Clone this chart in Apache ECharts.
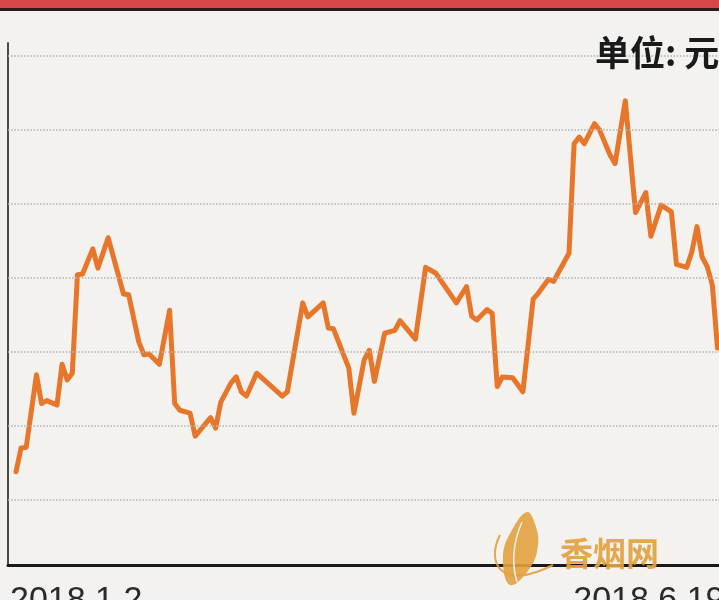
<!DOCTYPE html>
<html>
<head>
<meta charset="utf-8">
<script src="https://cdn.jsdelivr.net/npm/echarts@6/dist/echarts.min.js"></script>
<style>
html,body{margin:0;padding:0;background:#f3f2ef;}
#c{width:719px;height:600px;}
</style>
</head>
<body>
<div id="c"></div>
<script>
// trading-day index (0 = 2018.1.2) and price in 元
const dayIndex = [0,1,2,4,5,6,8,9,10,11,12,13,15,16,18,21,22,24,25,26,28,30,31,32,34,35,38,39,40,42,43,44,45,47,52,53,56,57,60,61,62,65,66,68,69,70,72,74,75,78,80,82,86,88,89,90,92,93,94,95,97,99,101,102,104,105,108,109,110,111,113,114,116,117,119,121,123,124,126,128,129,131,132,133,134,135,136,137];
const prices = [13.8,17.0,17.1,26.9,23.0,23.4,22.8,28.3,26.2,27.1,40.4,40.5,43.9,41.3,45.4,37.8,37.7,31.3,29.6,29.7,28.3,35.6,23.0,22.1,21.7,18.6,21.1,19.7,23.2,25.8,26.6,24.6,24.0,27.1,24.0,24.6,36.6,34.7,36.6,33.2,33.1,27.8,21.7,28.9,30.2,26.0,32.5,32.9,34.2,31.7,41.4,40.6,36.6,38.8,34.8,34.3,35.7,35.2,25.3,26.6,26.5,24.6,37.1,37.9,39.8,39.5,43.3,58.1,59.0,58.1,60.8,59.9,56.6,55.4,63.9,48.8,51.5,45.6,49.8,48.9,41.8,41.4,43.5,46.9,42.8,41.5,39.0,30.5];
const tickIndex = [0, 110];
const tickLabels = ['2018.1.2', '2018.6.19'];
const gridValues = [10, 20, 30, 40, 50, 60, 70];
const unitText = '单位: 元';
const watermark = '香烟网';

const chart = echarts.init(document.getElementById('c'), null, {renderer: 'canvas'});
const seriesData = dayIndex.map((d, i) => [d, prices[i]]);

chart.setOption({
  backgroundColor: '#f3f2ef',
  animation: false,
  grid: {left: 8, right: 0, top: 43, bottom: 35, containLabel: false, outerBoundsMode: 'none'},
  xAxis: {
    type: 'value',
    min: -1.56,
    max: 137.3,
    splitLine: {show: false},
    axisTick: {show: false},
    axisLine: {show: true, onZero: false, lineStyle: {color: '#1a1a1a', width: 3}},
    axisLabel: {
      show: true,
      customValues: tickIndex,
      formatter: function (v) {
        const k = tickIndex.indexOf(Math.round(v));
        return k >= 0 ? tickLabels[k] : '';
      },
      align: 'left',
      padding: [0, 0, 0, -6],
      margin: 19,
      fontSize: 34,
      fontFamily: 'Liberation Sans, Arial, sans-serif',
      color: '#2a2a2a'
    }
  },
  yAxis: {
    type: 'value',
    min: 1.2,
    max: 71.7,
    splitLine: {show: false},
    axisTick: {show: false},
    axisLabel: {show: false},
    axisLine: {show: true, onZero: false, lineStyle: {color: '#4a4a4a', width: 2}}
  },
  series: [
    {
      type: 'line',
      data: [],
      z: 1,
      silent: true,
      markLine: {
        silent: true,
        symbol: ['none', 'none'],
        label: {show: false},
        lineStyle: {type: 'dotted', color: '#b5b5b5', width: 1.6},
        data: gridValues.map(v => ({yAxis: v}))
      }
    },
    {
      type: 'line',
      data: seriesData,
      z: 3,
      symbol: 'none',
      smooth: false,
      lineStyle: {color: '#e8762a', width: 5, cap: 'round', join: 'round'}
    }
  ],
  graphic: [
    {type: 'rect', z: 10, shape: {x: 0, y: 0, width: 719, height: 8}, style: {fill: '#d64848'}},
    {type: 'rect', z: 10, shape: {x: 0, y: 8, width: 719, height: 3}, style: {fill: '#2a1c1c'}},
    {type: 'text', x: 595, y: 53, z: 10,
      style: {text: unitText, fontSize: 35, fontWeight: 'bold', fontFamily: 'Noto Sans CJK SC', fill: '#1a1a1a', verticalAlign: 'middle', align: 'left'}},
    {type: 'polygon', z: 20,
      shape: {points: [[527, 512], [512, 530], [503, 556], [510, 585], [530, 568], [538, 545], [535, 524]], smooth: 0.4},
      style: {fill: '#e2a13f', opacity: 0.9}},
    {type: 'bezierCurve', z: 21,
      shape: {x1: 522, y1: 522, cpx1: 512, cpy1: 545, cpx2: 512, cpy2: 565, x2: 517, y2: 582},
      style: {stroke: '#f3f2ef', lineWidth: 1.5, fill: null}},
    {type: 'bezierCurve', z: 20,
      shape: {x1: 500, y1: 535, cpx1: 486, cpy1: 562, cpx2: 500, cpy2: 592, x2: 553, y2: 565},
      style: {stroke: '#e2a13f', lineWidth: 2, fill: null, opacity: 0.9}},
    {type: 'text', x: 560, y: 553, z: 20,
      style: {text: watermark, fontSize: 33, fontWeight: 'bold', fontFamily: 'Noto Sans CJK SC', fill: '#e2a13f', opacity: 0.92, verticalAlign: 'middle', align: 'left'}}
  ]
});
</script>
</body>
</html>
